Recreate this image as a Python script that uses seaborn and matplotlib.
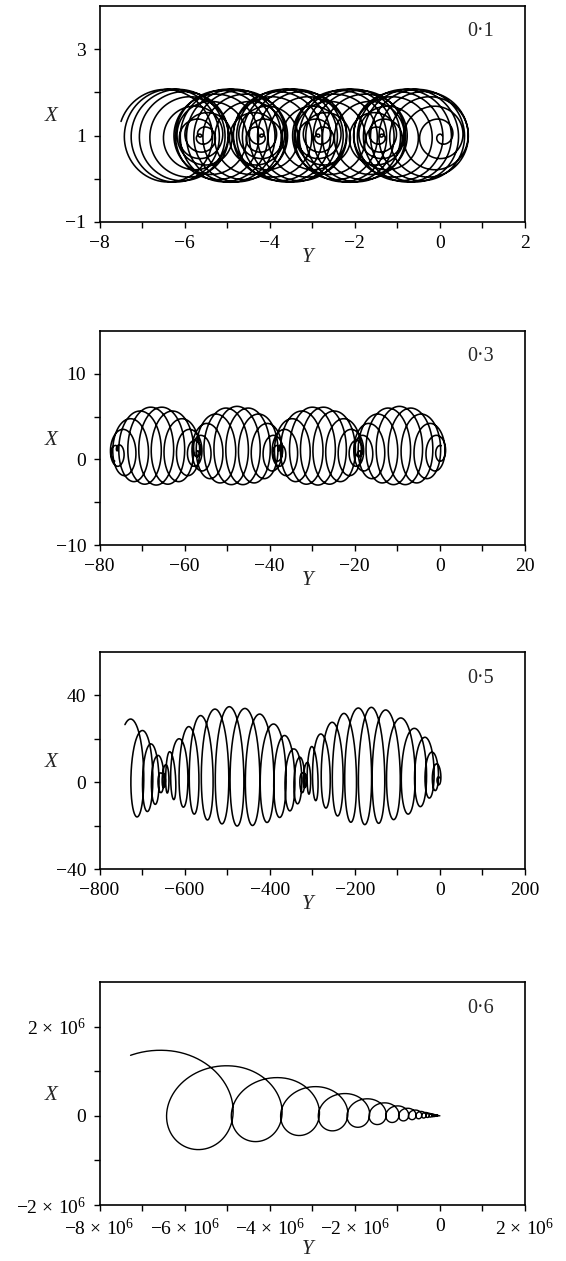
import numpy as np
import pandas as pd
import matplotlib
matplotlib.use("Agg")
import matplotlib.pyplot as plt
import seaborn as sns
from matplotlib.ticker import FixedLocator, FixedFormatter

sns.set_theme(style="ticks")
plt.rcParams["font.family"] = ["Liberation Serif", "DejaVu Serif"]
plt.rcParams["mathtext.fontset"] = "custom"
plt.rcParams["mathtext.rm"] = "Liberation Serif"
plt.rcParams["mathtext.it"] = "Liberation Serif:italic"

# ---------------- data ----------------
# Panel 0·1 : spiral centres (beat nodes) along Y, loop radius and loop position within one beat
p1_nodes = [0.05, -1.41, -2.82, -4.23, -5.60, -7.00]
p1_beat_radius = [0.0, 0.38, 0.68, 0.90, 1.02, 1.07, 1.08, 1.07, 1.02, 0.90, 0.68, 0.38]
p1_beat_offset = [0.0, 0.031, 0.093, 0.179, 0.280, 0.389, 0.500, 0.611, 0.720, 0.821, 0.907, 0.969]
p1_centre_x = 1.0
p1_end_turn = 55.2

# Panel 0·3 : nodes along Y, loop tops / bottoms / half-widths / positions within one lobe
p2_nodes = [0.3, -19.0, -38.0, -57.0, -76.0, -95.0]
p2_lobe_top = [1.6, 2.8, 4.2, 5.3, 6.0, 6.2, 6.0, 5.3, 4.2, 2.8]
p2_lobe_bottom = [0.4, -0.8, -1.9, -2.6, -2.9, -3.0, -2.9, -2.6, -1.9, -0.8]
p2_lobe_half_w = [0.7, 2.0, 3.2, 4.1, 4.6, 4.8, 4.6, 4.1, 3.2, 2.0]
p2_lobe_offset = [0.0, 0.044, 0.124, 0.235, 0.367, 0.509, 0.650, 0.782, 0.894, 0.974]
p2_end_turn = 40.5

# Panel 0·5 : Y of every loop top, X of loop top and of the following bottom
p3_top_y = [0, -6, -17, -34, -59, -91, -127, -161, -192, -226, -254, -281, -302,
            -313, -321, -328, -342, -364, -390, -423, -458, -495, -529, -563, -591,
            -614, -636, -645, -653, -661, -678, -698, -726, -760]
p3_top_x = [2, 8.4, 13.8, 20.7, 24.8, 29.6, 33.3, 34.5, 34.2, 31.7, 27.6, 22.2, 16.4,
            9, 4, 11.5, 15.3, 21.5, 26.8, 31.4, 34, 34.8, 33.7, 30.7, 25.6,
            20, 14, 8, 4, 12.3, 17.6, 23.8, 29.1, 33]
p3_bottom_x = [0, -2.3, -5.4, -9.2, -13.3, -16.1, -18.4, -19.5, -19.6, -17.3, -13.8, -10, -7,
               -4, -1, -8.4, -11.5, -14.9, -17.6, -19.5, -20.4, -20, -18.4, -16.4, -13,
               -10, -6, -4, -1, -8.4, -12, -15, -17, -19]
p3_end_turn = 32.08

# Panel 0·6 : growing loops (units of 1e6)
p4_turn_y = [0.0, -0.049, -0.064, -0.084, -0.114, -0.148, -0.193, -0.252, -0.331, -0.435,
             -0.568, -0.746, -0.978, -1.279, -1.680, -2.198, -2.880, -3.769, -4.940,
             -6.471, -8.497]
p4_half_w = [0.0, 0.010, 0.013, 0.017, 0.023, 0.030, 0.038, 0.050, 0.066, 0.087, 0.113,
             0.149, 0.195, 0.255, 0.335, 0.438, 0.574, 0.752, 0.985, 1.290, 1.694]
p4_turn_xc = [0.0, 0.002, 0.003, 0.004, 0.005, 0.007, 0.009, 0.012, 0.016, 0.020, 0.027,
              0.035, 0.046, 0.060, 0.079, 0.103, 0.135, 0.177, 0.232, 0.304, 0.399]
p4_half_h = [0.0, 0.009, 0.012, 0.015, 0.020, 0.027, 0.035, 0.045, 0.059, 0.078, 0.102,
             0.134, 0.176, 0.230, 0.302, 0.395, 0.518, 0.678, 0.888, 1.163, 1.527]
p4_end_turn = 19.08
p4_unit = 1e6

panel_labels = ["0\u00b71", "0\u00b73", "0\u00b75", "0\u00b76"]


def path_from_turns(turn_y, turn_xc, turn_w, turn_h, t_end, per_turn=260):
    k = np.arange(len(turn_y))
    t = np.linspace(0.0, t_end, int(t_end * per_turn) + 2)
    yc = np.interp(t, k, turn_y)
    xc = np.interp(t, k, turn_xc)
    w = np.interp(t, k, turn_w)
    h = np.interp(t, k, turn_h)
    th = 2 * np.pi * t
    return pd.DataFrame({"Y": yc - w * np.sin(th), "X": xc + h * np.cos(th)})


# panel 1 turns
t1_y, t1_r = [], []
for b in range(len(p1_nodes) - 1):
    s = (-1) ** b
    for j, r in enumerate(p1_beat_radius):
        t1_y.append(p1_nodes[b] + (p1_nodes[b + 1] - p1_nodes[b]) * p1_beat_offset[j])
        t1_r.append(s * r)
t1_y.append(p1_nodes[-1]); t1_r.append(0.0)
df1 = path_from_turns(t1_y, [p1_centre_x] * len(t1_y), t1_r, t1_r, p1_end_turn)

# panel 2 turns
t2_y, t2_xc, t2_w, t2_h = [], [], [], []
for b in range(len(p2_nodes) - 1):
    s = (-1) ** b
    for j in range(len(p2_lobe_top)):
        t2_y.append(p2_nodes[b] + (p2_nodes[b + 1] - p2_nodes[b]) * p2_lobe_offset[j])
        t2_xc.append((p2_lobe_top[j] + p2_lobe_bottom[j]) / 2)
        t2_h.append(s * (p2_lobe_top[j] - p2_lobe_bottom[j]) / 2)
        t2_w.append(s * p2_lobe_half_w[j])
df2 = path_from_turns(t2_y, t2_xc, t2_w, t2_h, p2_end_turn)

# panel 3 turns
p3y = np.array(p3_top_y, float)
spacing = -np.diff(p3y)
t3_w = 0.7 * np.append(spacing, spacing[-1])
t3_xc = (np.array(p3_top_x) + np.array(p3_bottom_x)) / 2
t3_h = (np.array(p3_top_x) - np.array(p3_bottom_x)) / 2
df3 = path_from_turns(p3y, t3_xc, t3_w, t3_h, p3_end_turn)

# panel 4 turns
df4 = path_from_turns(np.array(p4_turn_y) * p4_unit, np.array(p4_turn_xc) * p4_unit,
                      np.array(p4_half_w) * p4_unit, np.array(p4_half_h) * p4_unit,
                      p4_end_turn)

# ---------------- figure ----------------
fig = plt.figure(figsize=(5.66, 12.61), dpi=100)
left, width = 99.5 / 566, 425.5 / 566
boxes = [(6, 222), (331, 545), (652, 869), (982, 1205)]

M = "\u2212"
def sci(v):
    if v == 0:
        return "0"
    return r"$%d\,\times\,10^{6}$" % v

def plain(v):
    return M + str(-v) if v < 0 else str(v)

specs = [
    dict(df=df1, xlim=(-8, 2), ylim=(-1, 4),
         xt=list(range(-8, 3)), xl=[plain(v) if v % 2 == 0 else "" for v in range(-8, 3)],
         yt=[-1, 0, 1, 2, 3], yl=[M + "1", "", "1", "", "3"], lw=1.15, ylab=-0.165),
    dict(df=df2, xlim=(-80, 20), ylim=(-10, 15),
         xt=list(range(-80, 21, 10)), xl=[plain(v) if v % 20 == 0 else "" for v in range(-80, 21, 10)],
         yt=[-10, -5, 0, 5, 10], yl=[M + "10", "", "0", "", "10"], lw=1.15, ylab=-0.165),
    dict(df=df3, xlim=(-800, 200), ylim=(-40, 60),
         xt=list(range(-800, 201, 100)), xl=[plain(v) if v % 200 == 0 else "" for v in range(-800, 201, 100)],
         yt=[-40, -20, 0, 20, 40], yl=[M + "40", "", "0", "", "40"], lw=1.15, ylab=-0.165),
    dict(df=df4, xlim=(-8e6, 2e6), ylim=(-2e6, 3e6),
         xt=[v * 1e6 for v in range(-8, 3)], xl=[sci(v) if v % 2 == 0 else "" for v in range(-8, 3)],
         yt=[v * 1e6 for v in range(-2, 3)], yl=[sci(-2), "", "0", "", sci(2)], lw=1.0, ylab=-0.20),
]

for (top, bot), sp, lab in zip(boxes, specs, panel_labels):
    ax = fig.add_axes([left, 1 - bot / 1261, width, (bot - top) / 1261])
    sns.lineplot(data=sp["df"], x="Y", y="X", sort=False, estimator=None, ax=ax,
                 color="black", linewidth=sp["lw"])
    ax.set_xlim(*sp["xlim"]); ax.set_ylim(*sp["ylim"])
    ax.xaxis.set_major_locator(FixedLocator(sp["xt"]))
    ax.xaxis.set_major_formatter(FixedFormatter(sp["xl"]))
    ax.yaxis.set_major_locator(FixedLocator(sp["yt"]))
    ax.yaxis.set_major_formatter(FixedFormatter(sp["yl"]))
    ax.tick_params(direction="out", length=4.5, width=1.0, pad=5, labelsize=14,
                   colors="black")
    for s in ax.spines.values():
        s.set_visible(True); s.set_linewidth(1.2); s.set_color("black")
    ax.set_xlabel(""); ax.set_ylabel("")
    ax.grid(False)
    ax.text(0.49, sp["ylab"], "Y", transform=ax.transAxes, ha="center", va="center",
            fontsize=15, style="italic")
    ax.text(-0.113, 0.49, "X", transform=ax.transAxes, ha="center", va="center",
            fontsize=15, style="italic")
    ax.text(0.895, 0.88, lab, transform=ax.transAxes, ha="center", va="center",
            fontsize=14.5)

fig.savefig("out.png", dpi=100)
